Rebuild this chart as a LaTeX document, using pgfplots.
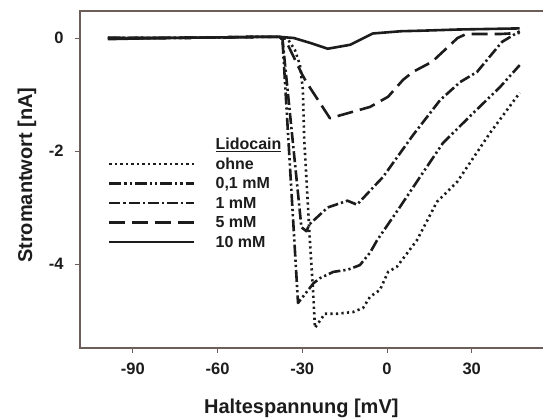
\documentclass[border=0pt]{standalone}
\usepackage{fontspec}
\setmainfont{Liberation Sans}
\usepackage{pgfplots}
\pgfplotsset{compat=1.18}
\definecolor{ink}{HTML}{1C1C1C}
\definecolor{framec}{HTML}{6E5E5A}
\newcommand{\ls}{\rule[-3.5pt]{0pt}{15pt}}
\begin{document}
\begin{tikzpicture}[x=1pt,y=1pt]
\useasboundingbox (0,0) rectangle (543,419);
\begin{axis}[
  at={(80pt,71pt)}, anchor=south west,
  scale only axis, width=463pt, height=337pt,
  xmin=-108.7, xmax=55.25, ymin=-5.487, ymax=0.478,
  clip=false,
  axis line style={draw=none},
  tick align=outside, xtick pos=lower, ytick pos=left,
  major tick length=5pt,
  tick style={framec, line width=0.8pt},
  xtick={-90,-60,-30,0,30}, xticklabels={-90,-60,-30,0,30},
  ytick={-4,-2,0}, yticklabels={-4,-2,0},
  ticklabel style={font=\bfseries\fontsize{16.5}{16.5}\selectfont, text=ink},
  xticklabel style={yshift=-6pt},
  yticklabel style={xshift=-8pt},
  xlabel={Haltespannung [mV]},
  ylabel={Stromantwort [nA]},
  label style={font=\bfseries\fontsize{20}{20}\selectfont, text=ink},
  xlabel style={at={(axis description cs:0.478,-0.178)}, anchor=center},
  ylabel style={at={(axis description cs:-0.1145,0.513)}, anchor=center, rotate=0},
  every axis plot/.append style={ink, line width=2.6pt, line join=round},
  legend image code/.code={\draw[#1] (0pt,0pt) -- (85pt,0pt);},
  legend cell align=left,
  legend style={at={(axis cs:-99.9,-1.73)}, anchor=north west, draw=none, fill=none,
    font=\bfseries\fontsize{16}{16}\selectfont, text=ink,
    nodes={inner sep=0pt}, row sep=6.5pt,
    /tikz/every odd column/.append style={column sep=20pt}},
]
\draw[framec, line width=1.1pt] (rel axis cs:1,1) -- (rel axis cs:0,1) -- (rel axis cs:0,0) -- (rel axis cs:1,0);

\addlegendimage{empty legend}
\addlegendentry{\ls\underline{Lidocain}}

% ohne
\addplot[dash pattern=on 2.2pt off 3.3pt] coordinates {
(-98.8,0.0) (-80,0.0) (-60,0.01) (-45,0.02) (-38,0.02) (-35,-0.03) (-32.6,-0.21) (-30.8,-0.48)
(-29.8,-0.9) (-29.3,-1.8) (-27.3,-3.58) (-26.2,-4.46) (-25.5,-5.13) (-22,-4.88) (-17.7,-4.88)
(-12,-4.85) (-8.5,-4.78) (-6,-4.58) (-2.5,-4.46) (0.4,-4.14) (3.5,-4.05) (10.6,-3.58)
(17.7,-2.9) (24.8,-2.55) (36.5,-1.68) (47,-0.97)};
\addlegendentry{\ls ohne}

% 0,1 mM
\addplot[dash pattern=on 12pt off 3pt on 2.2pt off 3pt on 2.2pt off 3pt] coordinates {
(-98.8,0.0) (-80,0.0) (-60,0.01) (-45,0.02) (-38,0.02) (-37,-0.03) (-31.5,-4.69) (-26,-4.34)
(-23.7,-4.25) (-19,-4.14) (-13.8,-4.1) (-9.6,-4.02) (-6,-3.8) (-3.5,-3.58) (4.6,-2.99)
(11.7,-2.46) (19.8,-1.86) (30.5,-1.33) (40,-0.87) (47,-0.48)};
\addlegendentry{\ls 0,1 mM}

% 1 mM
\addplot[dash pattern=on 11pt off 3pt on 2.2pt off 3pt] coordinates {
(-98.8,0.0) (-80,0.0) (-60,0.01) (-45,0.02) (-38,0.02) (-37,-0.02) (-30.3,-3.35) (-28.5,-3.42)
(-27.5,-3.3) (-21,-3.0) (-14,-2.88) (-10.6,-2.95) (-5,-2.65) (-1.4,-2.46) (9.2,-1.72)
(18.8,-1.1) (25.9,-0.78) (31.9,-0.6) (40.7,-0.07) (47,0.12)};
\addlegendentry{\ls 1 mM}

% 5 mM
\addplot[dash pattern=on 16pt off 7pt] coordinates {
(-98.8,0.0) (-80,0.0) (-60,0.01) (-45,0.02) (-38,0.02) (-35.4,-0.09) (-30,-0.65) (-28.3,-0.8)
(-20.2,-1.42) (-6,-1.22) (0.4,-1.04) (5.7,-0.74) (9.2,-0.6) (16,-0.42) (25,0.0) (28,0.07)
(40,0.07) (47,0.09)};
\addlegendentry{\ls 5 mM}

% 10 mM
\addplot[solid] coordinates {
(-98.8,-0.02) (-80,0.0) (-60,0.01) (-45,0.02) (-38,0.02) (-33,0.0) (-27,-0.09) (-21,-0.19)
(-13,-0.12) (-5,0.08) (5,0.12) (12.7,0.13) (25,0.15) (47,0.17)};
\addlegendentry{\ls 10 mM}
\end{axis}
\end{tikzpicture}
\end{document}
